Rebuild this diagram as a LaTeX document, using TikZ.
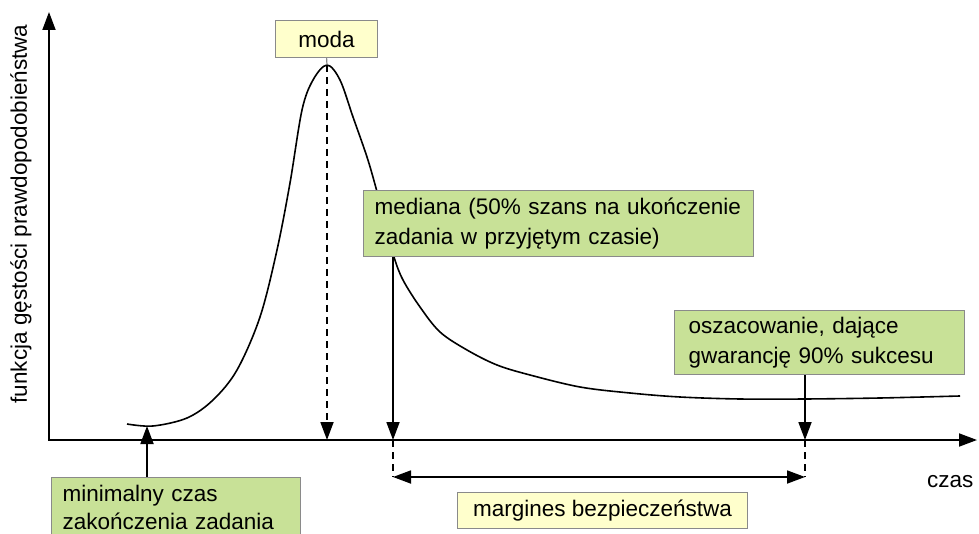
\documentclass[tikz,border=0pt]{standalone}
\usepackage{fontspec}
\setmainfont{Liberation Sans}
\usetikzlibrary{arrows.meta}
\definecolor{boxgreen}{HTML}{C8E197}
\definecolor{boxyellow}{HTML}{FFFFCC}
\definecolor{boxborder}{HTML}{8A8A8A}
\begin{document}
\begin{tikzpicture}[x=1pt,y=-1pt,
  txt/.style={font=\fontsize{22.5}{30}\selectfont},
  box/.style={txt,draw=boxborder,line width=1.2pt,inner sep=0pt,anchor=north west,align=left},
  greenbox/.style={box,fill=boxgreen},
  yellowbox/.style={box,fill=boxyellow,align=center},
  tip/.style={-{Triangle[length=18pt,width=13pt]}},
  line/.style={line width=1.8pt,black},
  dashline/.style={line,dash pattern=on 7pt off 5pt},
  graylink/.style={line width=1.2pt,boxborder}
]
\clip (0,0) rectangle (979,534);
\fill[white] (0,0) rectangle (979,534);

% coordinates
\coordinate (O) at (49,440);
\coordinate (ytop) at (49,12);
\coordinate (xend) at (977,440);
\coordinate (peak) at (327,65);
\coordinate (axmode) at (327,440);
\coordinate (axmed) at (393,440);
\coordinate (ax90) at (805,440);
\coordinate (minpt) at (147,426);
\coordinate (dimL) at (393,477);
\coordinate (dimR) at (805,477);

% axes
\draw[line,{Triangle[length=18pt,width=13pt]}-{Triangle[length=18pt,width=13pt]}] (ytop) -- (O) -- (xend);

% density curve
\draw[line,line width=1.6pt] plot[smooth,tension=0.55] coordinates {
  (127,424) (153,426) (187,418) (213,400) (237,370) (260,317) (277,250)
  (290,183) (302,110) (313,80) (327,65) (340,80) (353,117) (367,157)
  (376,188) (385,222) (394,257) (403,280) (420,307) (440,332) (467,350)
  (497,365) (530,375) (580,387) (630,393) (680,397) (740,399) (805,399)
  (880,398) (960,396)};

% boxes
\node[yellowbox,minimum width=102pt,minimum height=37pt] (moda) at (275,20) {moda};
\node[greenbox,text width=368pt,inner xsep=11pt,minimum height=66pt] (med) at (363,190)
  {mediana (50\% szans na ukończenie\\zadania w przyjętym czasie)};
\node[greenbox,text width=262pt,inner xsep=14pt,minimum height=64pt] (est) at (674,310)
  {oszacowanie, dające\\gwarancję 90\% sukcesu};
\node[greenbox,font=\fontsize{22.5}{28.5}\selectfont,text width=227pt,inner xsep=11pt,minimum height=60pt] (min) at (51,477)
  {minimalny czas\\zakończenia zadania};
\node[yellowbox,minimum width=290pt,minimum height=36pt] (marg) at (457,492)
  {margines bezpieczeństwa};

% labels
\node[txt,rotate=90] (ylab) at (21,214) {funkcja gęstości prawdopodobieństwa};
\node[txt,anchor=base east] (xlab) at (977,487) {czas};

% connectors
\draw[graylink] (moda.south) -- (peak);
\draw[dashline,tip] (peak) -- (axmode);
\draw[line,tip] (med.south -| axmed) -- (axmed);
\draw[line,tip] (est.south -| ax90) -- (ax90);
\draw[line,tip] (min.north -| minpt) -- (minpt);
\draw[dashline] (axmed) -- (dimL);
\draw[dashline] (ax90) -- (dimR);
\draw[line,{Triangle[length=18pt,width=13pt]}-{Triangle[length=18pt,width=13pt]}] (dimL) -- (dimR);
\end{tikzpicture}
\end{document}
